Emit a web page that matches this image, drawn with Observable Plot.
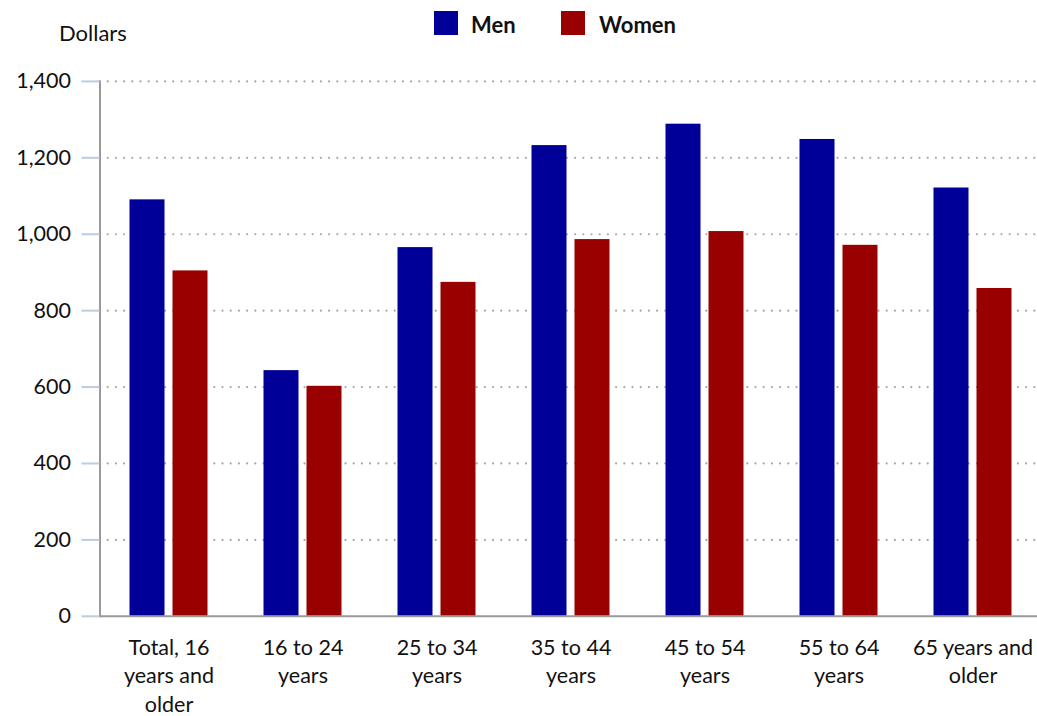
<!DOCTYPE html>
<html>
<head>
<meta charset="utf-8">
<script src="https://cdn.jsdelivr.net/npm/d3@7"></script>
<script src="https://cdn.jsdelivr.net/npm/@observablehq/plot@0.6"></script>
<style>
  html, body { margin: 0; padding: 0; background: #fff; }
  body { width: 1037px; height: 716px; overflow: hidden; font-family: Lato, "Open Sans", sans-serif; color: #111; }
  #header { position: relative; height: 50px; }
  #header span { position: absolute; font-size: 22px; line-height: 22px; white-space: nowrap; }
  #header .swatch { position: absolute; width: 24px; height: 24px; top: 11px; }
  #ylabel { left: 59px; top: 22px; }
  .key { font-weight: bold; top: 14px; }
  #chart svg { display: block; }
</style>
</head>
<body>
<div id="header">
  <span id="ylabel">Dollars</span>
  <div class="swatch" style="left:434px;background:#000099"></div>
  <span class="key" style="left:471px">Men</span>
  <div class="swatch" style="left:561px;background:#990000"></div>
  <span class="key" style="left:599px">Women</span>
</div>
<div id="chart"></div>
<script>
// Median weekly earnings by age group and sex
const categories = [
  "Total, 16 years and older",
  "16 to 24 years",
  "25 to 34 years",
  "35 to 44 years",
  "45 to 54 years",
  "55 to 64 years",
  "65 years and older"
];
const tickLabels = [
  "Total, 16\nyears and\nolder",
  "16 to 24\nyears",
  "25 to 34\nyears",
  "35 to 44\nyears",
  "45 to 54\nyears",
  "55 to 64\nyears",
  "65 years and\nolder"
];
const men   = [1090, 643, 965, 1232, 1288, 1248, 1121];
const women = [904, 602, 874, 986, 1007, 971, 858];
const yTicks = [0, 200, 400, 600, 800, 1000, 1200, 1400];

const menData = categories.map((c, i) => ({category: c, value: men[i]}));
const womenData = categories.map((c, i) => ({category: c, value: women[i]}));
const labelOf = new Map(categories.map((c, i) => [c, tickLabels[i]]));

const chart = Plot.plot({
  width: 1037,
  height: 666,
  marginLeft: 99.5,
  marginRight: 0,
  marginTop: 30.9,
  marginBottom: 100.2,
  style: {fontFamily: "Lato, 'Open Sans', sans-serif", fontSize: "21.5px", color: "#111", background: "#fff"},
  x: {domain: categories, range: [99.5, 1041], paddingInner: 0.74, paddingOuter: 0.37},
  y: {domain: [0, 1400]},
  marks: [
    // dotted horizontal gridlines
    Plot.ruleY(yTicks.filter(d => d > 0), {
      stroke: "#a6a6a6", strokeWidth: 2.2, strokeDasharray: "0,8.2", strokeLinecap: "round"
    }),
    Plot.barY(menData, {x: "category", y: "value", fill: "#000099", dx: -21.5}),
    Plot.barY(womenData, {x: "category", y: "value", fill: "#990000", dx: 21.5}),
    // left and bottom axis lines
    Plot.frame({anchor: "left", stroke: "#9a9a9a", strokeWidth: 2}),
    Plot.ruleY([0], {stroke: "#9a9a9a", strokeWidth: 2}),
    Plot.axisY({
      ticks: yTicks, tickFormat: d3.format(","), tickSize: 18, tickPadding: 11,
      stroke: "#b9cde3", strokeWidth: 2, label: null, fontSize: 21.5
    }),
    Plot.axisX({
      tickSize: 0, tickPadding: 18, label: null, lineHeight: 1.33, fontSize: 21.5,
      tickFormat: d => labelOf.get(d)
    })
  ]
});
document.getElementById("chart").append(chart);
</script>
</body>
</html>
